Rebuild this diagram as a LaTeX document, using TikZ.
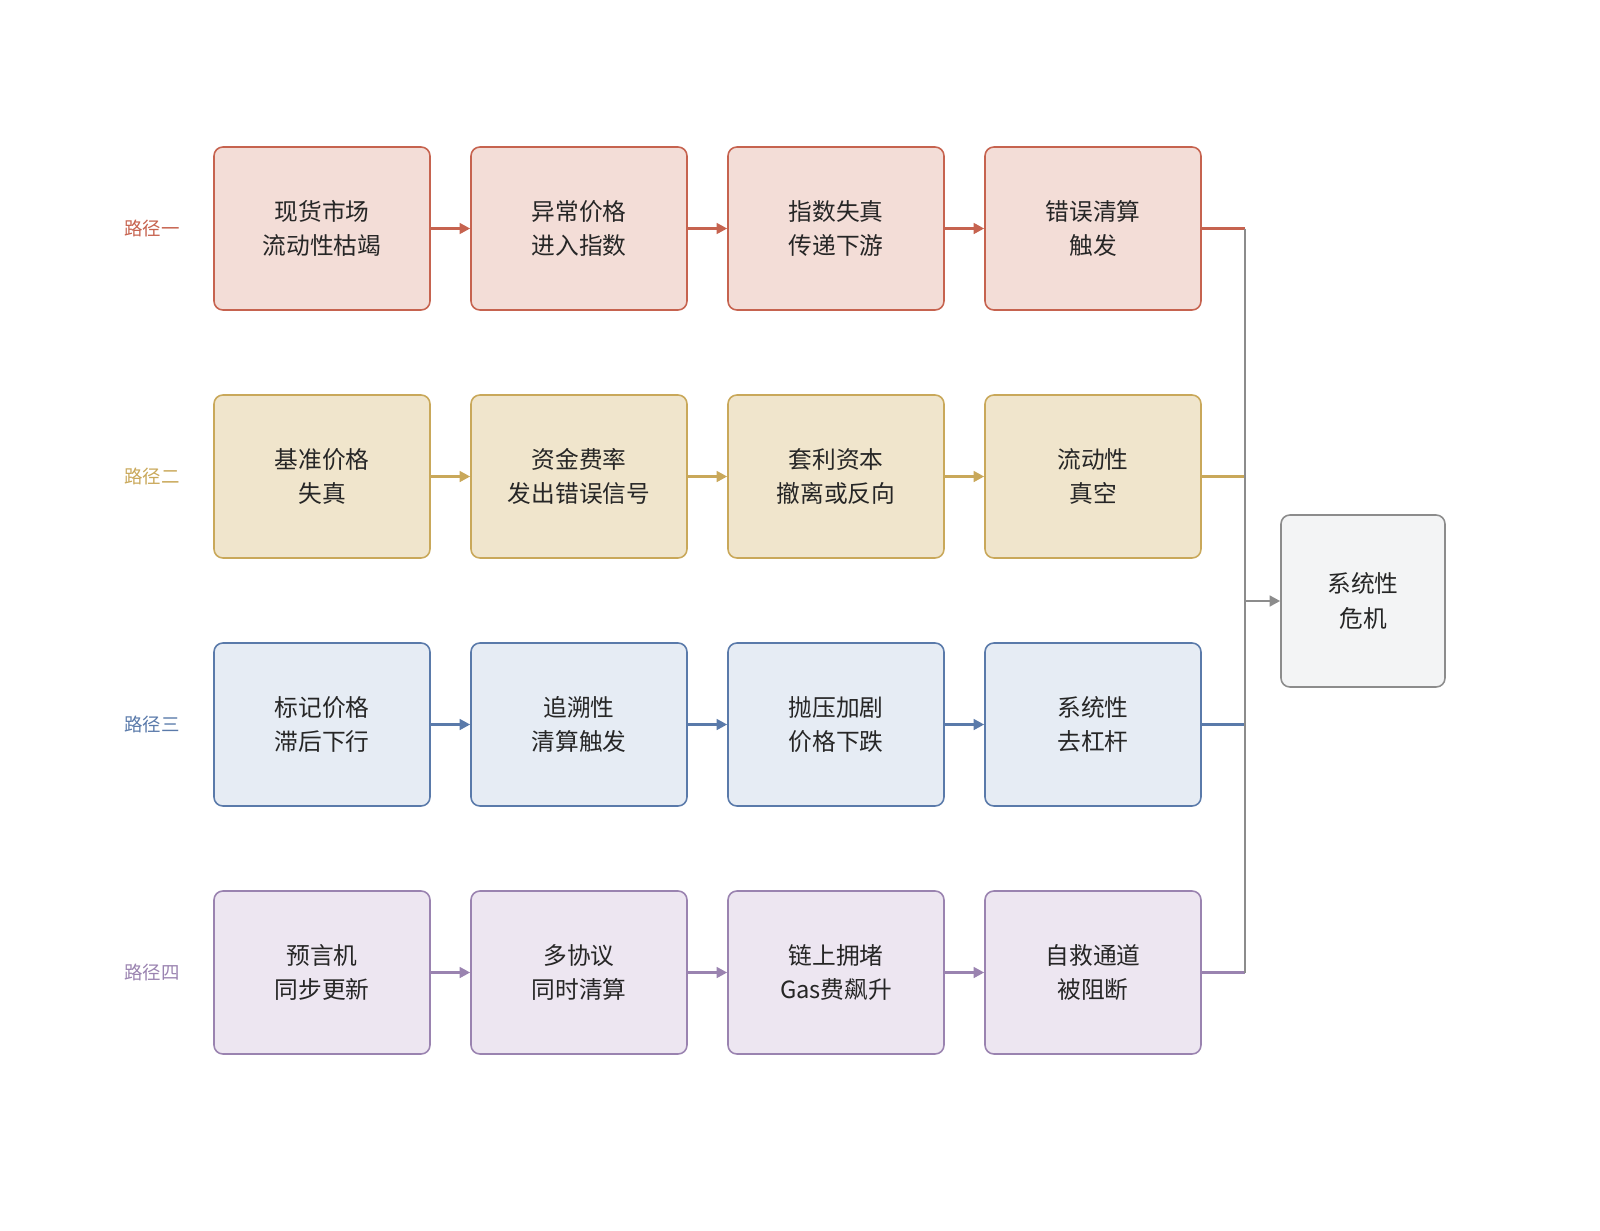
\documentclass[tikz,border=0pt]{standalone}
\usepackage{fontspec}
\setmainfont{Noto Sans CJK SC}
\usetikzlibrary{arrows.meta}
\definecolor{rS}{HTML}{C6634F}\definecolor{rF}{HTML}{F3DDD7}
\definecolor{yS}{HTML}{C9A85A}\definecolor{yF}{HTML}{F0E5CC}
\definecolor{bS}{HTML}{5A7AAA}\definecolor{bF}{HTML}{E6ECF4}
\definecolor{pS}{HTML}{9A83B0}\definecolor{pF}{HTML}{EDE6F1}
\definecolor{gS}{HTML}{8C8C8C}\definecolor{gF}{HTML}{F3F4F5}
\tikzset{
  box/.style={draw=#1S, fill=#1F, line width=0.9pt, rounded corners=5pt,
    minimum width=4.32cm, minimum height=3.26cm, align=center,
    font=\fontsize{13.5}{19.5}\selectfont, text=black!85},
  link/.style={draw=#1S, line width=1.5pt, -{Triangle[length=6pt,width=6pt]}},
  tag/.style={text=#1S, font=\fontsize{10.5}{12}\selectfont}
}
\begin{document}
\begin{tikzpicture}[x=0.02cm,y=-0.02cm]
  \useasboundingbox (0,0) rectangle (1600,1231);
  % rows of boxes
  \foreach \r/\c/\lab/\ta/\tb/\tc/\td in {
    1/r/路径一/{现货市场\\流动性枯竭}/{异常价格\\进入指数}/{指数失真\\传递下游}/{错误清算\\触发},
    2/y/路径二/{基准价格\\失真}/{资金费率\\发出错误信号}/{套利资本\\撤离或反向}/{流动性\\真空},
    3/b/路径三/{标记价格\\滞后下行}/{追溯性\\清算触发}/{抛压加剧\\价格下跌}/{系统性\\去杠杆},
    4/p/路径四/{预言机\\同步更新}/{多协议\\同时清算}/{链上拥堵\\Gas费飙升}/{自救通道\\被阻断}}{
    \pgfmathsetmacro{\yy}{228.5+248*(\r-1)}
    \node[tag=\c] (t\r) at (152,\yy) {\lab};
    \node[box=\c] (n\r a) at (322,\yy) {\ta};
    \node[box=\c] (n\r b) at (579,\yy) {\tb};
    \node[box=\c] (n\r c) at (836,\yy) {\tc};
    \node[box=\c] (n\r d) at (1093,\yy) {\td};
    \coordinate (j\r) at (1245,\yy);
    \draw[link=\c] (n\r a) -- (n\r b);
    \draw[link=\c] (n\r b) -- (n\r c);
    \draw[link=\c] (n\r c) -- (n\r d);
    \draw[draw=\c S, line width=1.5pt] (n\r d.east) -- (j\r);
  }
  % merge into final box
  \node[box=g, minimum width=3.28cm, minimum height=3.44cm] (crisis) at (1363,601) {系统性\\危机};
  \draw[gS, line width=1.5pt] (j1) -- (j4);
  \coordinate (jm) at (1245,601);
  \draw[link=g] (jm) -- (crisis.west);
\end{tikzpicture}
\end{document}
